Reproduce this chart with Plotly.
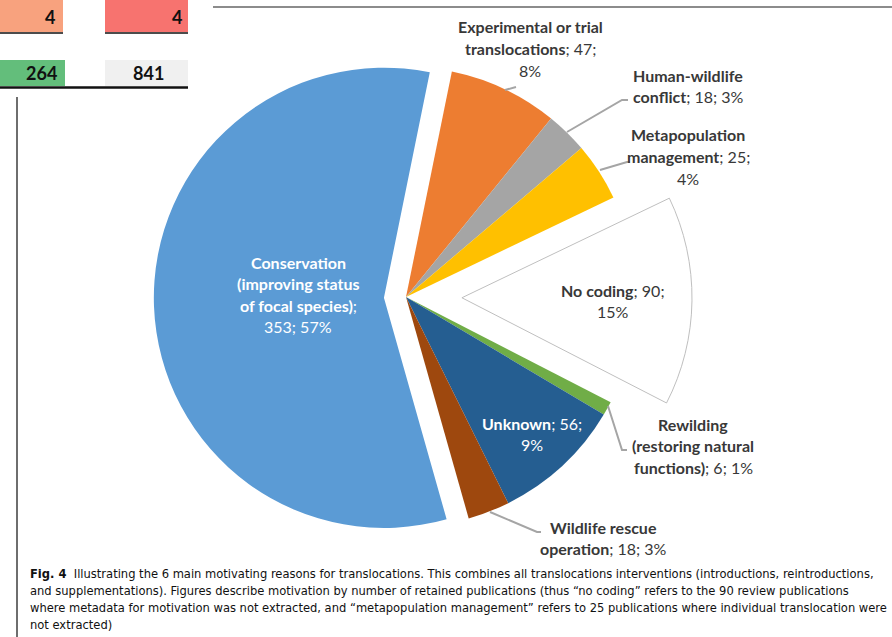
import plotly.graph_objects as go

W, H = 892, 637

# Motivations for translocations, in clockwise order starting from the top slice
categories = [
    "Experimental or trial translocations",
    "Human-wildlife conflict",
    "Metapopulation management",
    "No coding",
    "Rewilding (restoring natural functions)",
    "Unknown",
    "Wildlife rescue operation",
    "Conservation (improving status of focal species)",
]
counts = [47, 18, 25, 90, 6, 56, 18, 353]
percents = [8, 3, 4, 15, 1, 9, 3, 57]
colors = ["#ED7D31", "#A5A5A5", "#FFC000", "#FFFFFF", "#70AD47", "#255E91", "#9E480E", "#5B9BD5"]
pulls = [0, 0, 0, 0.243, 0, 0, 0, 0.096]

# Cells of the neighbouring table
table_values = ["4", "4", "264", "841"]
table_colors = ["#F8A27E", "#F7736F", "#63BE7B", "#F0F0F0"]

caption_lines = [
    "<b>Fig. 4</b>  Illustrating the 6 main motivating reasons for translocations. This combines all translocations interventions (introductions, reintroductions,",
    "and supplementations). Figures describe motivation by number of retained publications (thus \u201cno coding\u201d refers to the 90 review publications",
    "where metadata for motivation was not extracted, and \u201cmetapopulation management\u201d refers to 25 publications where individual translocation were",
    "not extracted)",
]


def px(x):
    return x / W


def py(y):
    return 1 - y / H


# Pie placement (pixel centre and box side)
cx, cy, side = 406, 297, 572
dom_x = [px(cx - side / 2), px(cx + side / 2)]
dom_y = [py(cy + side / 2), py(cy - side / 2)]

line_w = [0, 0, 0, 1, 0, 0, 0, 0]
line_c = ["#FFFFFF", "#FFFFFF", "#FFFFFF", "#BFBFBF", "#FFFFFF", "#FFFFFF", "#FFFFFF", "#FFFFFF"]

fig = go.Figure(
    go.Pie(
        labels=categories,
        values=counts,
        sort=False,
        direction="clockwise",
        rotation=11.5,
        pull=pulls,
        textinfo="none",
        marker=dict(colors=colors, line=dict(color=line_c, width=line_w)),
        domain=dict(x=dom_x, y=dom_y),
        showlegend=False,
    )
)

LABEL_FONT = "Lato, 'Open Sans', sans-serif"
annotations = []
shapes = []


def label(lines, x, y0, color="#383838", size=16, step=21.5):
    for i, t in enumerate(lines):
        annotations.append(dict(
            text=t, x=px(x), y=py(y0 + i * step), xref="paper", yref="paper",
            xanchor="center", yanchor="middle", showarrow=False,
            font=dict(family=LABEL_FONT, size=size, color=color),
        ))


c, p = counts, percents
label(["<b>Experimental or trial</b>", f"<b>translocations</b>; {c[0]};", f"{p[0]}%"], 530, 27)
label(["<b>Human-wildlife</b>", f"<b>conflict</b>; {c[1]}; {p[1]}%"], 688, 75)
label(["<b>Metapopulation</b>", f"<b>management</b>; {c[2]};", f"{p[2]}%"], 688, 135)
label([f"<b>No coding</b>; {c[3]};", f"{p[3]}%"], 613, 290)
label(["<b>Rewilding</b>", "<b>(restoring natural</b>", f"<b>functions)</b>; {c[4]}; {p[4]}%"], 693, 424)
label([f"<b>Unknown</b>; {c[5]};", f"{p[5]}%"], 532, 423, color="#FFFFFF")
label(["<b>Wildlife rescue</b>", f"<b>operation</b>; {c[6]}; {p[6]}%"], 603, 527)
label(["<b>Conservation</b>", "<b>(improving status</b>", "<b>of focal species)</b>;", f"{c[7]}; {p[7]}%"],
      298, 262, color="#FFFFFF")

# Leader lines from slices to their labels
leaders = [
    [(505, 90), (516, 87)],
    [(567, 132), (622, 100), (628, 100)],
    [(600, 170), (627, 162), (630, 162)],
    [(608, 406), (622, 450), (627, 450)],
    [(490, 512), (537, 532), (541, 532)],
]
for pts in leaders:
    path = "M " + " L ".join(f"{px(x)},{py(y)}" for x, y in pts)
    shapes.append(dict(type="path", path=path, xref="paper", yref="paper",
                       line=dict(color="#A5A5A5", width=2)))

# Neighbouring table fragment
cells = [(0, -5, 63, 32), (105, -5, 188, 32), (0, 60, 65, 86), (105, 60, 188, 86)]
for (x0, y0, x1, y1), col in zip(cells, table_colors):
    shapes.append(dict(type="rect", xref="paper", yref="paper", x0=px(x0), x1=px(x1),
                       y0=py(y1), y1=py(y0), fillcolor=col, line=dict(width=0), layer="below"))
for x0, x1, y, w in [(0, 63, 33, 1.6), (105, 188, 33, 1.6), (0, 188, 87.5, 2.6)]:
    shapes.append(dict(type="line", xref="paper", yref="paper", x0=px(x0), x1=px(x1),
                       y0=py(y), y1=py(y), line=dict(color="#111111", width=w)))
cell_text = [(57, 17, "right"), (184, 17, "right"), (59, 73, "right"), (148, 73, "center")]
for (x, y, anc), v in zip(cell_text, table_values):
    annotations.append(dict(text=f"<b>{v}</b>", x=px(x), y=py(y), xref="paper", yref="paper",
                            xanchor=anc, yanchor="middle", showarrow=False,
                            font=dict(family=LABEL_FONT, size=18, color="#111111")))

# Page rules
shapes.append(dict(type="line", xref="paper", yref="paper", x0=px(213), x1=1,
                   y0=py(7), y1=py(7), line=dict(color="#8C8C8C", width=2)))
shapes.append(dict(type="line", xref="paper", yref="paper", x0=px(17), x1=px(17),
                   y0=py(97), y1=0, line=dict(color="#6E6E6E", width=2)))

# Caption
for i, t in enumerate(caption_lines):
    annotations.append(dict(
        text=t, x=px(28), y=py(573 + i * 17.3), xref="paper", yref="paper",
        xanchor="left", yanchor="middle", showarrow=False,
        font=dict(family="'DejaVu Sans Condensed', 'Liberation Sans Narrow', sans-serif",
                  size=12.8, color="#111111"),
    ))

fig.update_layout(
    width=W, height=H,
    margin=dict(l=0, r=0, t=0, b=0),
    paper_bgcolor="white", plot_bgcolor="white",
    annotations=annotations, shapes=shapes,
)

fig.write_html("out.html")
